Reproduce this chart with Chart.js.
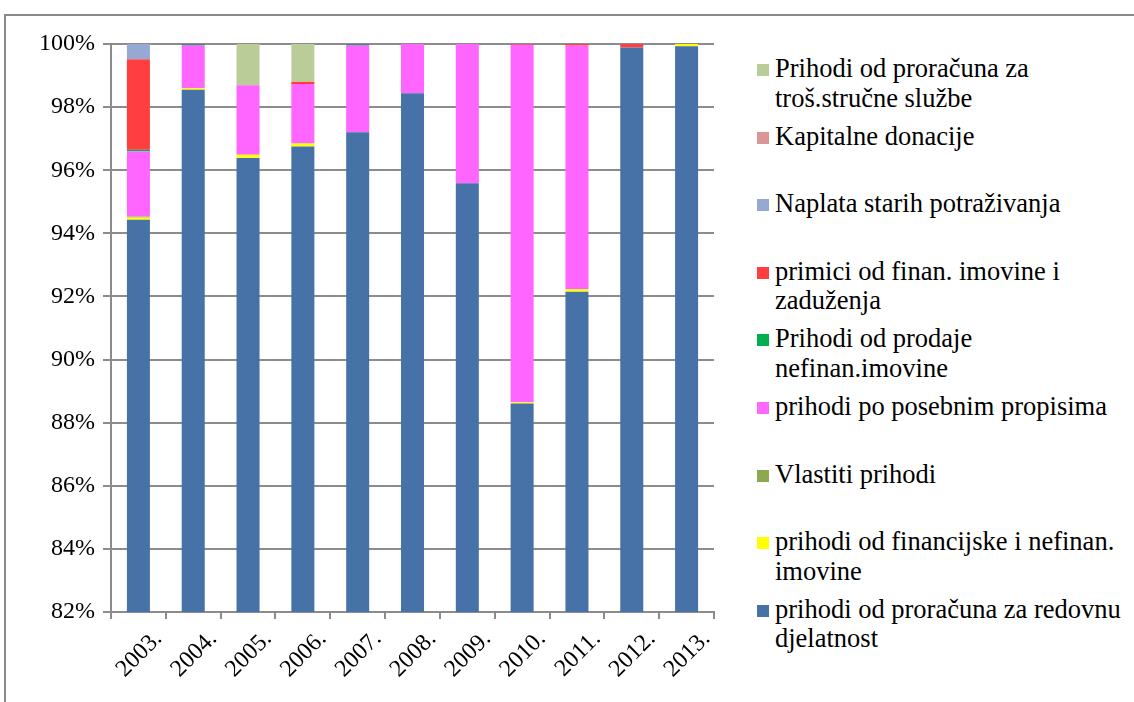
<!DOCTYPE html>
<html>
<head>
<meta charset="utf-8">
<script src="https://cdn.jsdelivr.net/npm/chart.js@4/dist/chart.umd.min.js"></script>
<style>
  html, body { margin: 0; padding: 0; background: #fff; }
  body { width: 1134px; height: 702px; position: relative; overflow: hidden; font-family: 'Liberation Serif'; }
  #frame { position: absolute; left: 4px; top: 14px; width: 1200px; height: 800px; border: 2px solid #8a8a8a; box-sizing: border-box; }
  #wrap { position: absolute; left: 0; top: 0; width: 720px; height: 702px; }
  #legend { position: absolute; left: 757px; top: 0; width: 377px; }
  .item { position: absolute; left: 0; width: 377px; }
  .sw { position: absolute; left: 0; width: 12px; height: 12px; }
  .txt { position: absolute; left: 18px; font-family: 'Liberation Serif'; font-size: 26.5px; line-height: 29.5px; color: #000; white-space: pre; }
</style>
</head>
<body>
<div id="frame"></div>
<div id="wrap"><canvas id="c"></canvas></div>
<div id="legend"></div>
<script>
const categories = ["2003.", "2004.", "2005.", "2006.", "2007.", "2008.", "2009.", "2010.", "2011.", "2012.", "2013."];
const yTicks = [82, 84, 86, 88, 90, 92, 94, 96, 98, 100];

const seriesNames = [
  "prihodi od proračuna za redovnu djelatnost",
  "prihodi od financijske i nefinan. imovine",
  "Vlastiti prihodi",
  "prihodi po posebnim propisima",
  "Prihodi od prodaje nefinan.imovine",
  "primici od finan. imovine i zaduženja",
  "Naplata starih potraživanja",
  "Kapitalne donacije",
  "Prihodi od proračuna za troš.stručne službe"
];
const legendLines = [
  ["prihodi od proračuna za redovnu", "djelatnost"],
  ["prihodi od financijske i nefinan.", "imovine"],
  ["Vlastiti prihodi"],
  ["prihodi po posebnim propisima"],
  ["Prihodi od prodaje", "nefinan.imovine"],
  ["primici od finan. imovine i", "zaduženja"],
  ["Naplata starih potraživanja"],
  ["Kapitalne donacije"],
  ["Prihodi od proračuna za", "troš.stručne službe"]
];
const seriesColors = ["#4672A7", "#FFFF00", "#8CA94F", "#FF66FF", "#00B050", "#FF3F3F", "#95A9D2", "#D99694", "#BACC97"];

// values in percent of total
const redovna      = [94.43, 98.55, 96.39, 96.75, 97.20, 98.44, 95.59, 88.61, 92.15, 99.89, 99.93];
const financijske  = [0.07,  0.05,  0.10,  0.10,  0.00,  0.00,  0.00,  0.04,  0.08,  0.00,  0.07];
const vlastiti     = [0.03,  0.00,  0.00,  0.00,  0.00,  0.00,  0.00,  0.00,  0.00,  0.00,  0.00];
const posebni      = [2.07,  1.37,  2.20,  1.88,  2.77,  1.56,  4.41,  11.33, 7.72,  0.00,  0.00];
const prodaja      = [0.05,  0.03,  0.00,  0.00,  0.03,  0.00,  0.00,  0.00,  0.00,  0.00,  0.00];
const primici      = [2.87,  0.00,  0.00,  0.07,  0.00,  0.00,  0.00,  0.02,  0.05,  0.11,  0.00];
const naplata      = [0.48,  0.00,  0.00,  0.00,  0.00,  0.00,  0.00,  0.00,  0.00,  0.00,  0.00];
const kapitalne    = [0.00,  0.00,  0.00,  0.00,  0.00,  0.00,  0.00,  0.00,  0.00,  0.00,  0.00];
const strucne      = [0.00,  0.00,  1.31,  1.20,  0.00,  0.00,  0.00,  0.00,  0.00,  0.00,  0.00];

const seriesValues = [redovna, financijske, vlastiti, posebni, prodaja, primici, naplata, kapitalne, strucne];

const datasets = seriesNames.map((name, i) => ({
  label: name,
  data: seriesValues[i],
  backgroundColor: seriesColors[i],
  borderWidth: 0,
  categoryPercentage: 1.0,
  barPercentage: 0.42
}));

Chart.defaults.font.family = "Liberation Serif";
const gridColor = "#8c8c8c";
const axisFont = { family: "Liberation Serif", size: 24 };

new Chart(document.getElementById("c"), {
  type: "bar",
  data: { labels: categories, datasets },
  options: {
    responsive: true,
    maintainAspectRatio: false,
    animation: false,
    layout: { padding: { top: 44, right: 6, left: 0, bottom: 0 } },
    plugins: { legend: { display: false }, tooltip: { enabled: false } },
    scales: {
      x: {
        stacked: true,
        grid: { display: true, offset: true, drawOnChartArea: false, drawTicks: true, tickLength: 7, color: gridColor, lineWidth: 2 },
        border: { display: true, color: gridColor, width: 2 },
        ticks: { color: "#000", font: axisFont, maxRotation: 45, minRotation: 45, padding: 6, labelOffset: 20, autoSkip: false },
        afterFit: s => { s.height = 90; }
      },
      y: {
        stacked: true,
        min: 82, max: 100,
        afterBuildTicks: s => { s.ticks = yTicks.map(v => ({ value: v })); },
        grid: { color: gridColor, lineWidth: 2, drawTicks: true, tickLength: 8 },
        border: { display: true, color: gridColor, width: 2 },
        ticks: { color: "#000", font: axisFont, padding: 8, callback: v => v + "%" },
        afterFit: s => { s.width = 111; }
      }
    }
  }
});

// HTML legend (reverse order, as in the reference)
const legend = document.getElementById("legend");
const order = seriesNames.map((_, i) => i).reverse();
order.forEach((si, k) => {
  const item = document.createElement("div");
  item.className = "item";
  item.style.top = (54 + k * 67.6) + "px";
  const sw = document.createElement("div");
  sw.className = "sw";
  sw.style.background = seriesColors[si];
  sw.style.top = "10px";
  const t = document.createElement("div");
  t.className = "txt";
  t.textContent = legendLines[si].join("\n");
  item.appendChild(sw);
  item.appendChild(t);
  legend.appendChild(item);
});
</script>
</body>
</html>
